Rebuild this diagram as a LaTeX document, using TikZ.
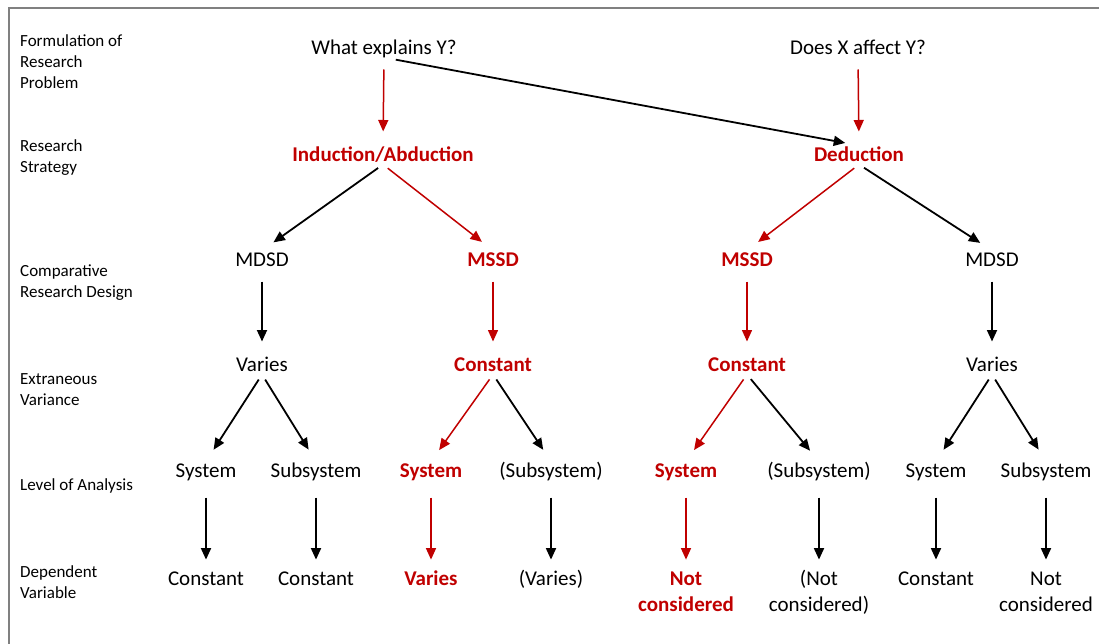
\documentclass[tikz,border=0pt]{standalone}
\usepackage{fontspec}
\setmainfont{Carlito}
\usetikzlibrary{positioning,arrows.meta}
\definecolor{dred}{RGB}{192,0,0}
\newcommand{\twoline}[1]{\begin{tabular}[t]{@{}c@{}}#1\end{tabular}}
\tikzset{
  lab/.style={anchor=west,align=left,inner sep=0pt,font=\fontsize{17}{21}\selectfont},
  item/.style={inner sep=0pt,text height=16pt,text depth=2.6pt,font=\fontsize{21}{26}\selectfont},
  two/.style={inner sep=0pt,anchor=base,font=\fontsize{21}{26}\selectfont},
  hot/.style={text=dred,font=\fontsize{21}{26}\selectfont\bfseries},
  arr/.style={-{Triangle[length=11.5pt,width=10pt]},line width=1.8pt,shorten <=12pt,shorten >=14pt},
  rarr/.style={arr,color=dred,line width=1.5pt},
  fan/.style={shorten <=6pt},
  last/.style={shorten <=17pt,shorten >=7pt},
}
\begin{document}
\begin{tikzpicture}[x=1pt,y=-1pt]
  \useasboundingbox (0,0) rectangle (1099,644);
  \draw[gray,line width=1.5pt] (9,8) rectangle (1110,660);

  % row labels
  \node[lab](l1) at (20,62) {Formulation of\\Research\\Problem};
  \node[lab](l2) at (20,158) {Research\\Strategy};
  \node[lab](l3) at (20,283) {Comparative\\Research Design};
  \node[lab](l4) at (20,390) {Extraneous\\Variance};
  \node[lab](l5) at (20,486) {Level of Analysis};
  \node[lab](l6) at (20,582) {Dependent\\Variable};

  % problems and strategies
  \node[item](wy) at (384,48) {What explains Y?};
  \node[item](xy) at (858,48) {Does X affect Y?};
  \node[item,hot](ind) at (383,155) {Induction/Abduction};
  \node[item,hot](ded) at (859,155) {Deduction};

  % designs
  \node[item](md1) at (262,260) {MDSD};
  \node[item,hot](ms1) at (493,260) {MSSD};
  \node[item,hot](ms2) at (747,260) {MSSD};
  \node[item](md2) at (992,260) {MDSD};

  % variance
  \node[item](va1) at (262,365) {Varies};
  \node[item,hot](co1) at (493,365) {Constant};
  \node[item,hot](co2) at (747,365) {Constant};
  \node[item](va2) at (992,365) {Varies};

  % level of analysis
  \node[item](sy1) at (206,471) {System};
  \node[item](su1) at (316,471) {Subsystem};
  \node[item,hot](sy2) at (431,471) {System};
  \node[item](su2) at (551,471) {(Subsystem)};
  \node[item,hot](sy3) at (686,471) {System};
  \node[item](su3) at (819,471) {(Subsystem)};
  \node[item](sy4) at (936,471) {System};
  \node[item](su4) at (1046,471) {Subsystem};

  % dependent variable
  \node[two](dv1) at (206,585) {\twoline{Constant}};
  \node[two](dv2) at (316,585) {\twoline{Constant}};
  \node[two,hot](dv3) at (431,585) {\twoline{Varies}};
  \node[two](dv4) at (551,585) {\twoline{(Varies)}};
  \node[two,hot](dv5) at (686,585) {\twoline{Not\\considered}};
  \node[two](dv6) at (819,585) {\twoline{(Not\\considered)}};
  \node[two](dv7) at (936,585) {\twoline{Constant}};
  \node[two](dv8) at (1046,585) {\twoline{Not\\considered}};

  \path[arr] (wy.south) edge (ded.north)
             (ind.south) edge[fan] (md1.north)
             (ded.south) edge[fan] (md2.north)
             (md1) edge (va1)
             (md2) edge (va2)
             (va1.south) edge[fan] (sy1.north)
                         edge[fan] (su1.north)
             (co1.south) edge[fan] (su2.north)
             (co2.south) edge[fan] (su3.north)
             (va2.south) edge[fan] (sy4.north)
                         edge[fan] (su4.north)
             (sy1) edge[last] (dv1.north)
             (su1) edge[last] (dv2.north)
             (su2) edge[last] (dv4.north)
             (su3) edge[last] (dv6.north)
             (sy4) edge[last] (dv7.north)
             (su4) edge[last] (dv8.north);
  \path[rarr] (wy.south) edge (ind.north)
              (xy.south) edge (ded.north)
              (ind.south) edge[fan] (ms1.north)
              (ded.south) edge[fan] (ms2.north)
              (ms1) edge (co1)
              (ms2) edge (co2)
              (co1.south) edge[fan] (sy2.north)
              (co2.south) edge[fan] (sy3.north)
              (sy2) edge[last] (dv3.north)
              (sy3) edge[last] (dv5.north);
\end{tikzpicture}
\end{document}
